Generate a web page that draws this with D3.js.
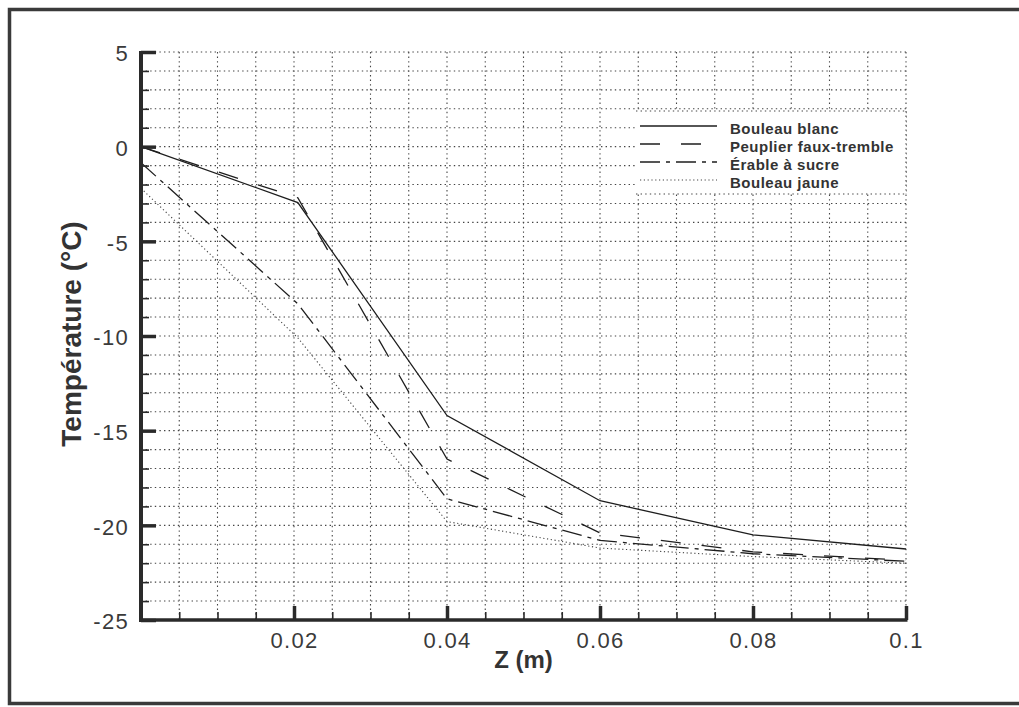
<!DOCTYPE html>
<html>
<head>
<meta charset="utf-8">
<script src="https://cdn.jsdelivr.net/npm/d3@7"></script>
<style>
  html, body { margin: 0; padding: 0; background: #fff; overflow: hidden; }
  svg { display: block; font-family: "Liberation Sans", Arial, sans-serif; }
</style>
</head>
<body>
<svg id="chart" width="1019" height="707"></svg>
<script>
// Depth (m) at which temperatures were sampled
const depths = [0, 0.0205, 0.04, 0.06, 0.08, 0.1];

// Temperature (°C) profiles for each wood species
const bouleauBlanc   = [0, -2.95, -14.2, -18.7, -20.5, -21.25];
const peuplier       = [0, -2.7, -16.5, -20.4, -21.4, -21.85];
const erable         = [-0.85, -8.3, -18.6, -20.8, -21.5, -21.9];
const bouleauJaune   = [-2.2, -10.1, -19.8, -21.2, -21.65, -22.0];

const seriesNames = ["Bouleau blanc", "Peuplier faux-tremble", "Érable à sucre", "Bouleau jaune"];

// Axis ticks
const xMajorTicks = [0.02, 0.04, 0.06, 0.08, 0.1];
const xTickLabels = ["0.02", "0.04", "0.06", "0.08", "0.1"];
const yMajorTicks = [5, 0, -5, -10, -15, -20, -25];
const yTickLabels = ["5", "0", "-5", "-10", "-15", "-20", "-25"];

const svg = d3.select("#chart");
const ink = "#2a2a2a";

const x = d3.scaleLinear().domain([0, 0.1]).range([141, 906]);
const y = d3.scaleLinear().domain([-25, 5]).range([620, 52]);

// Outer frame (right side runs past the page edge)
svg.append("rect")
  .attr("x", 9.5).attr("y", 9.5)
  .attr("width", 1100).attr("height", 694)
  .attr("fill", "none").attr("stroke", "#3a3a3a").attr("stroke-width", 3.5);

// Dotted grid
const xGrid = d3.range(1, 21).map(i => i * 0.005);
const yGrid = d3.range(-24, 6);
const grid = svg.append("g").attr("stroke", "#444").attr("stroke-width", 1.1)
  .attr("stroke-dasharray", "1.4,3.2");
grid.selectAll("line.v").data(xGrid).join("line").attr("class", "v")
  .attr("x1", d => x(d)).attr("x2", d => x(d))
  .attr("y1", y(5)).attr("y2", y(-25));
grid.selectAll("line.h").data(yGrid).join("line").attr("class", "h")
  .attr("x1", x(0)).attr("x2", x(0.1))
  .attr("y1", d => y(d)).attr("y2", d => y(d));

// Series
const series = [
  { name: seriesNames[0], values: bouleauBlanc, dash: null,           color: "#1e1e1e", width: 1.3 },
  { name: seriesNames[1], values: peuplier,     dash: "20,21",        color: "#1e1e1e", width: 1.3 },
  { name: seriesNames[2], values: erable,       dash: "20,6,4,6",     color: "#1e1e1e", width: 1.3 },
  { name: seriesNames[3], values: bouleauJaune, dash: "1.2,2.6",      color: "#444",    width: 1.1 }
];

const line = d3.line()
  .x((d, i) => x(depths[i]))
  .y(d => y(d));

const plot = svg.append("g");
series.forEach(s => {
  plot.append("path")
    .attr("d", line(s.values))
    .attr("fill", "none")
    .attr("stroke", s.color)
    .attr("stroke-width", s.width)
    .attr("stroke-dasharray", s.dash);
});

// Legend box (white fill hides grid beneath it)
const lg = svg.append("g");
lg.append("rect")
  .attr("x", 636).attr("y", 111).attr("width", x(0.1) - 636).attr("height", 83)
  .attr("fill", "#fff");
[[636, x(0.1), 194, 194], [636, x(0.1), 111, 111], [x(0.1), x(0.1), 111, 194]].forEach(c => {
  lg.append("line").attr("x1", c[0]).attr("x2", c[1]).attr("y1", c[2]).attr("y2", c[3])
    .attr("stroke", "#444").attr("stroke-width", 1.1).attr("stroke-dasharray", "1.4,3.2");
});

const rowY = [126, 144, 162, 180];
series.forEach((s, i) => {
  lg.append("line")
    .attr("x1", 640).attr("x2", 717)
    .attr("y1", rowY[i]).attr("y2", rowY[i])
    .attr("stroke", s.color).attr("stroke-width", s.width)
    .attr("stroke-dasharray", s.dash);
  lg.append("text")
    .attr("x", 730).attr("y", rowY[i] + 2)
    .attr("dominant-baseline", "central")
    .attr("font-size", 15).attr("font-weight", "bold")
    .attr("letter-spacing", 0.5)
    .attr("fill", "#333")
    .text(s.name);
});

// Axes: minor ticks, then major ticks with labels
const xMinor = d3.axisBottom(x).tickValues(xGrid).tickSize(-8).tickFormat("");
const xMajor = d3.axisBottom(x).tickValues(xMajorTicks).tickSize(-14)
  .tickPadding(7).tickFormat((d, i) => xTickLabels[i]);
const yMinor = d3.axisLeft(y).tickValues(yGrid).tickSize(-8).tickFormat("");
const yMajor = d3.axisLeft(y).tickValues(yMajorTicks).tickSize(-15)
  .tickPadding(12).tickFormat((d, i) => yTickLabels[i]);

function styleAxis(g, tickWidth) {
  g.select(".domain").remove();
  g.selectAll(".tick line").attr("stroke", ink).attr("stroke-width", tickWidth);
  g.selectAll(".tick text")
    .attr("fill", "#3a3a3a")
    .attr("font-size", 22)
    .attr("letter-spacing", 1.3)
    .attr("font-family", "\"Liberation Sans\", Arial, sans-serif");
}

const gxm = svg.append("g").attr("transform", `translate(0,${y(-25)})`).call(xMinor);
styleAxis(gxm, 1.6);
const gxM = svg.append("g").attr("transform", `translate(0,${y(-25)})`).call(xMajor);
styleAxis(gxM, 3.5);
gxM.selectAll(".tick text").attr("dy", "0.95em");

const gym = svg.append("g").attr("transform", `translate(${x(0)},0)`).call(yMinor);
styleAxis(gym, 1.6);
const gyM = svg.append("g").attr("transform", `translate(${x(0)},0)`).call(yMajor);
styleAxis(gyM, 3.5);
gyM.selectAll(".tick text").attr("dy", "0.4em");

// Heavy axis lines
svg.append("line")
  .attr("x1", x(0)).attr("x2", x(0))
  .attr("y1", y(5) - 1).attr("y2", y(-25) + 2)
  .attr("stroke", ink).attr("stroke-width", 4);
svg.append("line")
  .attr("x1", x(0) - 2).attr("x2", x(0.1) + 1.5)
  .attr("y1", y(-25)).attr("y2", y(-25))
  .attr("stroke", ink).attr("stroke-width", 3.5);

// Axis titles
svg.append("text")
  .attr("x", (x(0) + x(0.1)) / 2).attr("y", 668)
  .attr("text-anchor", "middle")
  .attr("font-size", 24).attr("font-weight", "bold")
  .attr("fill", "#333")
  .text("Z (m)");

svg.append("text")
  .attr("transform", `translate(81,${(y(5) + y(-25)) / 2 - 2}) rotate(-90)`)
  .attr("text-anchor", "middle")
  .attr("font-size", 28).attr("font-weight", "bold")
  .attr("fill", "#333")
  .text("Température (°C)");
</script>
</body>
</html>
